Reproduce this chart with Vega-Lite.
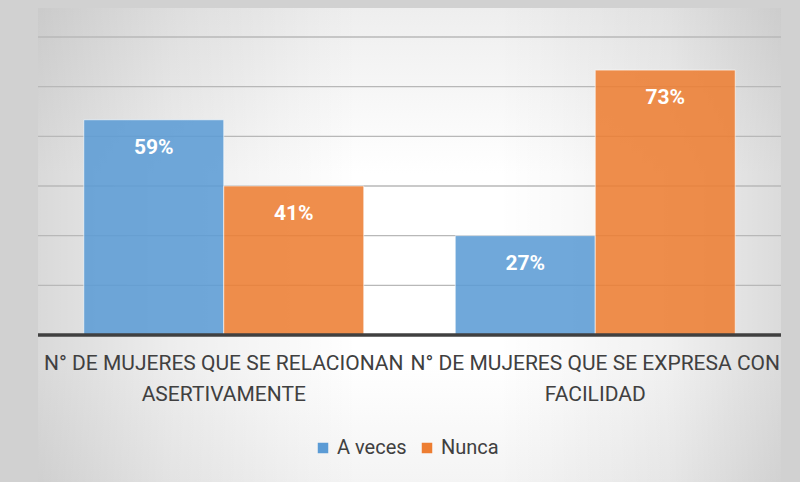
{
  "$schema": "https://vega.github.io/schema/vega-lite/v6.json",
  "width": 743,
  "height": 474,
  "autosize": {"type": "none"},
  "padding": {"left": 38, "top": 8, "right": 19, "bottom": 0},
  "background": "#D1D1D1",
  "config": {
    "view": {"stroke": null},
    "font": "Roboto"
  },
  "data": {
    "values": [
      {"grupo": "N° DE MUJERES QUE SE RELACIONAN ASERTIVAMENTE", "linea1": "N° DE MUJERES QUE SE RELACIONAN", "linea2": "ASERTIVAMENTE", "serie": "A veces", "n": 13, "pct": "59%"},
      {"grupo": "N° DE MUJERES QUE SE RELACIONAN ASERTIVAMENTE", "linea1": "N° DE MUJERES QUE SE RELACIONAN", "linea2": "ASERTIVAMENTE", "serie": "Nunca", "n": 9, "pct": "41%"},
      {"grupo": "N° DE MUJERES QUE SE EXPRESA CON FACILIDAD", "linea1": "N° DE MUJERES QUE SE EXPRESA CON", "linea2": "FACILIDAD", "serie": "A veces", "n": 6, "pct": "27%"},
      {"grupo": "N° DE MUJERES QUE SE EXPRESA CON FACILIDAD", "linea1": "N° DE MUJERES QUE SE EXPRESA CON", "linea2": "FACILIDAD", "serie": "Nunca", "n": 16, "pct": "73%"}
    ]
  },
  "layer": [
    {
      "data": {"values": [{"fondo": 1}]},
      "mark": {"type": "rect", "fill": {"gradient": "linear", "x1": 0, "y1": 0, "x2": 0, "y2": 1, "stops": [
        {"offset": 0, "color": "#EEEEEE"},
        {"offset": 0.35, "color": "#FFFFFF"},
        {"offset": 0.75, "color": "#FFFFFF"},
        {"offset": 1, "color": "#F4F4F4"}
      ]}},
      "encoding": {}
    },
    {
      "data": {"values": [{"fondo": 1}]},
      "mark": {"type": "rect", "fill": {"gradient": "linear", "x1": 0, "y1": 0, "x2": 1, "y2": 0, "stops": [
        {"offset": 0, "color": "rgba(0,0,0,0.15)"},
        {"offset": 0.18, "color": "rgba(0,0,0,0.07)"},
        {"offset": 0.43, "color": "rgba(0,0,0,0)"},
        {"offset": 0.62, "color": "rgba(0,0,0,0)"},
        {"offset": 0.85, "color": "rgba(0,0,0,0.06)"},
        {"offset": 1, "color": "rgba(0,0,0,0.14)"}
      ]}},
      "encoding": {}
    },
    {
      "data": {"values": [{"v": 3}, {"v": 6}, {"v": 9}, {"v": 12}, {"v": 15}, {"v": 18}]},
      "mark": {"type": "rule", "color": "#B8B8B8", "strokeWidth": 1.3},
      "encoding": {
        "y": {"field": "v", "type": "quantitative", "axis": null}
      }
    },
    {
      "mark": {"type": "bar", "fillOpacity": 0.87, "stroke": "#FFFFFF", "strokeWidth": 1, "strokeOpacity": 0.6},
      "encoding": {
        "x": {
          "field": "grupo", "type": "nominal", "sort": null,
          "scale": {"paddingInner": 0.2463, "paddingOuter": 0.1232},
          "axis": null
        },
        "xOffset": {"field": "serie", "type": "nominal", "scale": {"paddingInner": 0, "paddingOuter": 0}},
        "y": {
          "field": "n", "type": "quantitative",
          "scale": {"domain": [-8.879, 19.7516], "nice": false, "zero": false},
          "axis": null
        },
        "color": {
          "field": "serie", "type": "nominal",
          "scale": {"range": ["#5B9BD5", "#ED7D31"]},
          "legend": {
            "title": null, "orient": "none", "direction": "horizontal",
            "legendX": 275, "legendY": 430,
            "symbolType": "square", "symbolSize": 110, "symbolStrokeWidth": 0,
            "labelFontSize": 20, "labelColor": "#404040", "labelOffset": 4,
            "columnSpacing": 20
          }
        }
      }
    },
    {
      "data": {"values": [{"v": 0}]},
      "mark": {"type": "rule", "color": "#404040", "strokeWidth": 3.3},
      "encoding": {
        "y": {"field": "v", "type": "quantitative", "axis": null}
      }
    },
    {
      "mark": {"type": "text", "color": "#FFFFFF", "fontWeight": "bold", "fontSize": 21, "baseline": "middle", "dy": 28},
      "encoding": {
        "x": {"field": "grupo", "type": "nominal", "sort": null, "axis": null},
        "xOffset": {"field": "serie", "type": "nominal"},
        "y": {"field": "n", "type": "quantitative", "axis": null},
        "text": {"field": "pct", "type": "nominal"}
      }
    },
    {
      "transform": [{"filter": "datum.serie == 'A veces'"}],
      "mark": {"type": "text", "color": "#404040", "fontSize": 21, "baseline": "middle"},
      "encoding": {
        "x": {"field": "grupo", "type": "nominal", "sort": null, "axis": null},
        "y": {"datum": -1.752, "axis": null},
        "text": {"field": "linea1", "type": "nominal"}
      }
    },
    {
      "transform": [{"filter": "datum.serie == 'A veces'"}],
      "mark": {"type": "text", "color": "#404040", "fontSize": 21, "baseline": "middle"},
      "encoding": {
        "x": {"field": "grupo", "type": "nominal", "sort": null, "axis": null},
        "y": {"datum": -3.624, "axis": null},
        "text": {"field": "linea2", "type": "nominal"}
      }
    }
  ]
}
